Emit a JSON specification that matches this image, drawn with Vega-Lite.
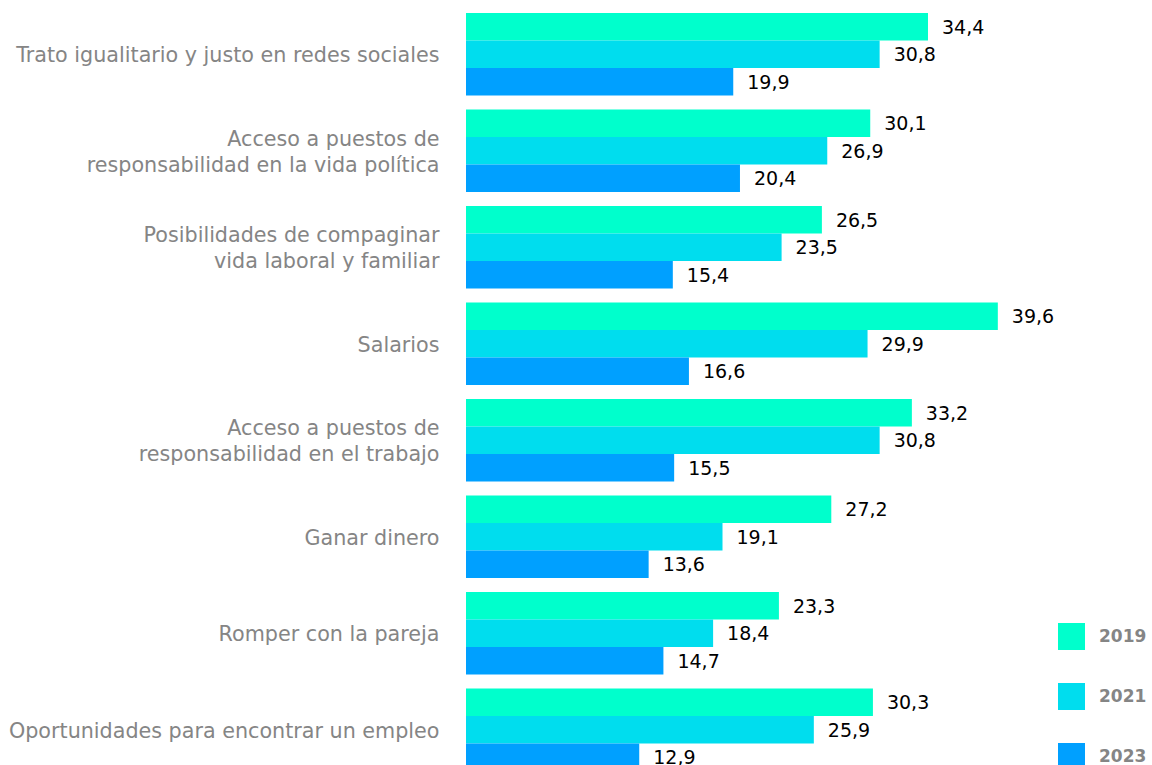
{
  "$schema": "https://vega.github.io/schema/vega-lite/v6.json",
  "autosize": "none",
  "width": 686,
  "height": 752,
  "padding": {"left": 466, "top": 13, "right": 0, "bottom": 0},
  "background": "white",
  "config": {
    "view": {"stroke": null},
    "font": "DejaVu Sans",
    "locale": {"number": {"decimal": ",", "thousands": ".", "grouping": [3], "currency": ["", " €"]}}
  },
  "data": {"values": [
    {"categoria": "Trato igualitario y justo en redes sociales", "anio": "2019", "valor": 34.4},
    {"categoria": "Trato igualitario y justo en redes sociales", "anio": "2021", "valor": 30.8},
    {"categoria": "Trato igualitario y justo en redes sociales", "anio": "2023", "valor": 19.9},
    {"categoria": "Acceso a puestos de|responsabilidad en la vida política", "anio": "2019", "valor": 30.1},
    {"categoria": "Acceso a puestos de|responsabilidad en la vida política", "anio": "2021", "valor": 26.9},
    {"categoria": "Acceso a puestos de|responsabilidad en la vida política", "anio": "2023", "valor": 20.4},
    {"categoria": "Posibilidades de compaginar|vida laboral y familiar", "anio": "2019", "valor": 26.5},
    {"categoria": "Posibilidades de compaginar|vida laboral y familiar", "anio": "2021", "valor": 23.5},
    {"categoria": "Posibilidades de compaginar|vida laboral y familiar", "anio": "2023", "valor": 15.4},
    {"categoria": "Salarios", "anio": "2019", "valor": 39.6},
    {"categoria": "Salarios", "anio": "2021", "valor": 29.9},
    {"categoria": "Salarios", "anio": "2023", "valor": 16.6},
    {"categoria": "Acceso a puestos de|responsabilidad en el trabajo", "anio": "2019", "valor": 33.2},
    {"categoria": "Acceso a puestos de|responsabilidad en el trabajo", "anio": "2021", "valor": 30.8},
    {"categoria": "Acceso a puestos de|responsabilidad en el trabajo", "anio": "2023", "valor": 15.5},
    {"categoria": "Ganar dinero", "anio": "2019", "valor": 27.2},
    {"categoria": "Ganar dinero", "anio": "2021", "valor": 19.1},
    {"categoria": "Ganar dinero", "anio": "2023", "valor": 13.6},
    {"categoria": "Romper con la pareja", "anio": "2019", "valor": 23.3},
    {"categoria": "Romper con la pareja", "anio": "2021", "valor": 18.4},
    {"categoria": "Romper con la pareja", "anio": "2023", "valor": 14.7},
    {"categoria": "Oportunidades para encontrar un empleo", "anio": "2019", "valor": 30.3},
    {"categoria": "Oportunidades para encontrar un empleo", "anio": "2021", "valor": 25.9},
    {"categoria": "Oportunidades para encontrar un empleo", "anio": "2023", "valor": 12.9}
  ]},
  "encoding": {
    "y": {
      "field": "categoria", "type": "nominal", "sort": null,
      "scale": {"range": [0, 758], "paddingInner": 0.145, "paddingOuter": 0},
      "axis": {
        "title": null, "domain": false, "ticks": false, "labelPadding": 27,
        "labelFontSize": 20.7, "labelColor": "#858585", "labelLimit": 0,
        "labelLineHeight": 26, "labelExpr": "split(datum.label, '|')",
        "labelOffset": {"condition": {"test": "indexof(datum.value, '|') >= 0", "value": -11}, "value": 2}
      }
    },
    "yOffset": {"field": "anio", "type": "nominal", "scale": {"paddingInner": 0, "paddingOuter": 0}},
    "x": {
      "field": "valor", "type": "quantitative",
      "scale": {"domain": [0, 51.08], "nice": false, "zero": true},
      "axis": null
    }
  },
  "layer": [
    {
      "mark": {"type": "bar"},
      "encoding": {
        "color": {
          "field": "anio", "type": "nominal",
          "scale": {"domain": ["2019", "2021", "2023"], "range": ["#00FFCC", "#00DDEE", "#00A0FF"]},
          "legend": {
            "title": null, "orient": "none", "legendX": 592, "legendY": 610,
            "symbolType": "square", "symbolSize": 729, "symbolStrokeWidth": 0,
            "symbolOpacity": 1,
            "labelFontSize": 17, "labelFontWeight": "bold", "labelColor": "#858585",
            "labelOffset": 14, "rowPadding": 33, "padding": 0
          }
        }
      }
    },
    {
      "mark": {"type": "text", "align": "left", "baseline": "middle", "dx": 14, "dy": 1, "fontSize": 19, "color": "#000000"},
      "encoding": {
        "text": {"field": "valor", "type": "quantitative", "format": ".1f"}
      }
    }
  ]
}
